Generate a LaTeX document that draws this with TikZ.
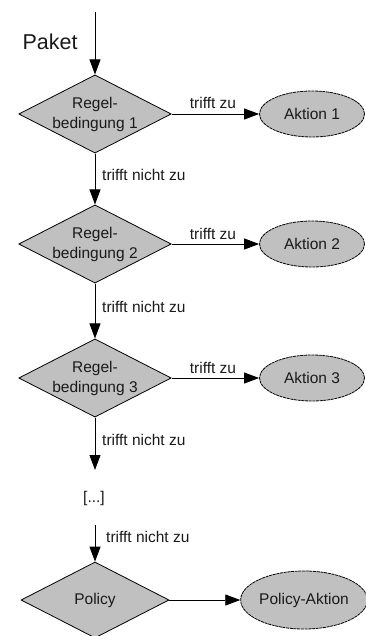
\documentclass[tikz,border=0pt]{standalone}
\usepackage{fontspec}
\setmainfont{Liberation Sans}
\usetikzlibrary{shapes.geometric,arrows.meta}
\definecolor{shapegrey}{HTML}{C0C0C0}
\definecolor{txt}{HTML}{1A1A1A}
\begin{document}
\begin{tikzpicture}[x=1pt,y=-1pt,
  cond/.style={diamond, draw=black, fill=shapegrey, line width=0.8pt,
    minimum width=148pt, minimum height=76pt, inner sep=0pt, shape aspect=1.95,
    align=center, text=txt, font=\fontsize{15.5}{20}\selectfont},
  act/.style={ellipse, draw=black, fill=shapegrey, line width=0.8pt,
    dash pattern=on 3pt off 0.7pt, minimum width=105pt, minimum height=46pt,
    inner sep=0pt, text=txt, font=\fontsize{15.5}{18}\selectfont},
  flow/.style={draw, line width=0.9pt, -{Triangle[length=15pt,width=11pt]}},
  lbl/.style={font=\fontsize{15.5}{18}\selectfont, text=txt, inner sep=0pt}
]
\useasboundingbox (0,0) rectangle (366,636);
\coordinate (start) at (95,12);
\node[lbl, font=\fontsize{21.5}{24}\selectfont] (paket) at (50,42) {Paket};

\node[cond] (c1) at (95,114) {Regel-\\bedingung 1};
\node[act] (a1) at (312,114) {Aktion 1};
\node[cond] (c2) at (95,244) {Regel-\\bedingung 2};
\node[act] (a2) at (312,244) {Aktion 2};
\node[cond] (c3) at (95,378) {Regel-\\bedingung 3};
\node[act] (a3) at (312,378) {Aktion 3};
\node[lbl] (dots) at (94,498) {[...]};
\coordinate (end3) at (95,470);
\coordinate (start4) at (95,525);
\node[cond] (pol) at (95,600) {Policy};
\node[act, minimum width=124pt, minimum height=58pt] (pa) at (304,600) {Policy-Aktion};

\draw[flow] (start) -- (c1.north);
\draw[flow] (c1.east) -- (a1.west);
\draw[flow] (c1.south) -- (c2.north);
\draw[flow] (c2.east) -- (a2.west);
\draw[flow] (c2.south) -- (c3.north);
\draw[flow] (c3.east) -- (a3.west);
\draw[flow] (c3.south) -- (end3);
\draw[flow] (start4) -- (pol.north);
\draw[flow] (pol.east) -- (pa.west);

\node[lbl] (z1) at (213,103) {trifft zu};
\node[lbl] (z2) at (213,234) {trifft zu};
\node[lbl] (z3) at (213,368) {trifft zu};
\node[lbl, anchor=west] (n1) at (102,175) {trifft nicht zu};
\node[lbl, anchor=west] (n2) at (102,307) {trifft nicht zu};
\node[lbl, anchor=west] (n3) at (102,440) {trifft nicht zu};
\node[lbl, anchor=west] (n4) at (106,537) {trifft nicht zu};
\end{tikzpicture}
\end{document}
